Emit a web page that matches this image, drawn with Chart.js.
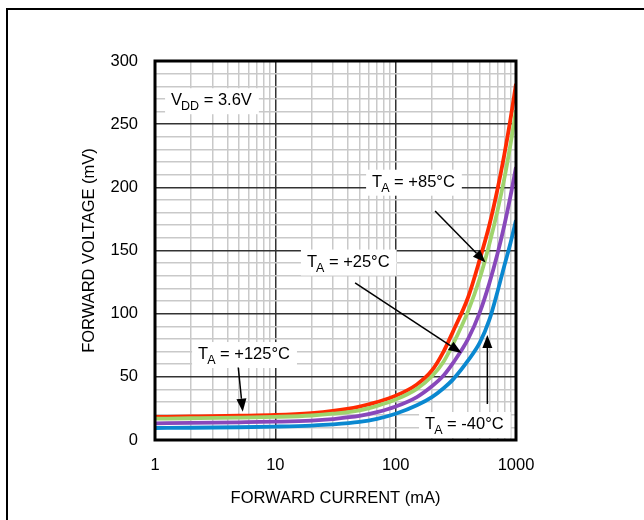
<!DOCTYPE html>
<html>
<head>
<meta charset="utf-8">
<script src="https://cdn.jsdelivr.net/npm/chart.js@4/dist/chart.umd.min.js"></script>
<style>
  html, body { margin: 0; padding: 0; background: #fff; }
  #wrap { width: 644px; height: 520px; position: relative; }
</style>
</head>
<body>
<div id="wrap"><canvas id="c" width="644" height="520"></canvas></div>
<script>
// ---- data ----
const currents = [1, 2, 5, 10, 20, 30, 50, 70, 100, 150, 200, 250, 300, 400, 500, 600, 700, 800, 900, 1000]; // mA
const v125 = [18.2, 18.6, 19.2, 19.8, 21.3, 23, 26.5, 30, 35, 44, 55, 70, 86, 113, 143, 170, 198, 226, 254, 282];
const v85  = [16.9, 17.2, 17.7, 18.3, 19.4, 20.8, 23.5, 27, 32, 40.5, 50.5, 62, 76, 102, 128, 155, 181, 207, 234, 261];
const v25  = [13.2, 13.5, 14, 14.5, 15.4, 16.6, 19, 22, 26.5, 34, 42.5, 51, 61, 80, 101, 124, 147, 170, 193, 216];
const vm40 = [9.5, 9.7, 10.1, 10.6, 11.4, 12.3, 14.3, 16.8, 20.8, 27.5, 34, 41, 48, 63, 77, 95, 117, 138, 156, 174];
const seriesNames = ['TA = -40°C', 'TA = +25°C', 'TA = +85°C', 'TA = +125°C'];
const xGridValues = [1,2,3,4,5,6,7,8,9,10,20,30,40,50,60,70,80,90,100,200,300,400,500,600,700,800,900,1000];
const xLabelValues = [1, 10, 100, 1000];
const yMajorStep = 50;
const yMinorStep = 10;

const toPts = arr => currents.map((c, i) => ({ x: c, y: arr[i] }));

const FONT_FAMILY = "'Liberation Sans', Arial, sans-serif";
const FONT_SIZE = 16.5;

// annotations in data coordinates (current mA, voltage mV)
const annotations = [
  { text: 'V', sub: 'DD', rest: ' = 3.6V', at: [1.36, 265] },
  { text: 'T', sub: 'A', rest: ' = +85°C', at: [63.7, 200.5], arrow: [[212.6, 181.3], [559, 140.5]] },
  { text: 'T', sub: 'A', rest: ' = +25°C', at: [18.3, 137.3], arrow: [[46, 124.3], [353, 68.9]] },
  { text: 'T', sub: 'A', rest: ' = +125°C', at: [2.28, 64.1], arrow: [[4.92, 57.4], [5.36, 22.4]] },
  { text: 'T', sub: 'A', rest: ' = -40°C', at: [175.5, 8.7], arrow: [[578, 28.5], [578, 83.1]] }
];

const overlayPlugin = {
  id: 'overlay',
  beforeDraw(chart) {
    const ctx = chart.ctx;
    ctx.save();
    ctx.strokeStyle = '#000';
    ctx.lineWidth = 2;
    ctx.beginPath();
    ctx.moveTo(7, 520);
    ctx.lineTo(7, 9);
    ctx.lineTo(644, 9);
    ctx.stroke();
    ctx.restore();
  },
  afterDatasetsDraw(chart) {
    const ctx = chart.ctx;
    const xs = chart.scales.x, ys = chart.scales.y;
    const a = chart.chartArea;
    ctx.save();
    // plot frame
    ctx.strokeStyle = '#000';
    ctx.lineWidth = 3;
    ctx.strokeRect(a.left, a.top, a.right - a.left, a.bottom - a.top);

    const mainFont = FONT_SIZE + 'px ' + FONT_FAMILY;
    const subFont = '12.5px ' + FONT_FAMILY;
    annotations.forEach(an => {
      const px = xs.getPixelForValue(an.at[0]);
      const py = ys.getPixelForValue(an.at[1]);
      ctx.font = mainFont;
      const w1 = ctx.measureText(an.text).width;
      const w3 = ctx.measureText(an.rest).width;
      ctx.font = subFont;
      const w2 = ctx.measureText(an.sub).width;
      const total = w1 + w2 + w3;
      ctx.fillStyle = '#fff';
      ctx.fillRect(px - 6, py - 17, total + 12, 26);
      ctx.fillStyle = '#000';
      ctx.textBaseline = 'alphabetic';
      ctx.textAlign = 'left';
      ctx.font = mainFont;
      ctx.fillText(an.text, px, py);
      ctx.font = subFont;
      ctx.fillText(an.sub, px + w1 - 1, py + 5);
      ctx.font = mainFont;
      ctx.fillText(an.rest, px + w1 + w2 - 1, py);
      if (an.arrow) {
        const x0 = xs.getPixelForValue(an.arrow[0][0]);
        const y0 = ys.getPixelForValue(an.arrow[0][1]);
        const x1 = xs.getPixelForValue(an.arrow[1][0]);
        const y1 = ys.getPixelForValue(an.arrow[1][1]);
        const ang = Math.atan2(y1 - y0, x1 - x0);
        const L = 13, W = 5;
        const bx = x1 - L * Math.cos(ang), by = y1 - L * Math.sin(ang);
        ctx.strokeStyle = '#000';
        ctx.lineWidth = 1.5;
        ctx.beginPath();
        ctx.moveTo(x0, y0);
        ctx.lineTo(bx, by);
        ctx.stroke();
        ctx.fillStyle = '#000';
        ctx.beginPath();
        ctx.moveTo(x1, y1);
        ctx.lineTo(bx + W * Math.sin(ang), by - W * Math.cos(ang));
        ctx.lineTo(bx - W * Math.sin(ang), by + W * Math.cos(ang));
        ctx.closePath();
        ctx.fill();
      }
    });
    ctx.restore();
  }
};

const lineDs = (label, arr, color) => ({
  label, data: toPts(arr), borderColor: color, backgroundColor: color,
  borderWidth: 3.8, pointRadius: 0, cubicInterpolationMode: 'monotone', fill: false
});

new Chart(document.getElementById('c'), {
  type: 'line',
  data: {
    datasets: [
      lineDs(seriesNames[0], vm40, '#0a88d0'),
      lineDs(seriesNames[1], v25, '#8848bb'),
      lineDs(seriesNames[2], v85, '#9fd46c'),
      lineDs(seriesNames[3], v125, '#ff2a00')
    ]
  },
  options: {
    responsive: false,
    animation: false,
    devicePixelRatio: 1,
    layout: { padding: { top: 61, right: 128, left: 0, bottom: 0 } },
    plugins: { legend: { display: false }, tooltip: { enabled: false } },
    scales: {
      x: {
        type: 'logarithmic',
        min: 1, max: 1000,
        afterBuildTicks: s => { s.ticks = xGridValues.map(v => ({ value: v })); },
        afterFit: s => { s.height = 80; },
        ticks: {
          autoSkip: false, maxRotation: 0, minRotation: 0,
          color: '#000', padding: 16,
          font: { family: FONT_FAMILY, size: FONT_SIZE },
          callback: v => xLabelValues.includes(v) ? String(v) : ''
        },
        grid: {
          drawTicks: false,
          color: c => xLabelValues.includes(c.tick && c.tick.value) ? '#333' : '#c9c9c9',
          lineWidth: 1.5
        },
        border: { display: false },
        title: {
          display: true, text: 'FORWARD CURRENT (mA)', color: '#000',
          font: { family: FONT_FAMILY, size: FONT_SIZE }, padding: { top: 0, bottom: 12 }
        }
      },
      y: {
        min: 0, max: 300,
        afterFit: s => { s.width = 155; },
        ticks: {
          stepSize: yMinorStep, autoSkip: false, color: '#000', padding: 17,
          font: { family: FONT_FAMILY, size: FONT_SIZE },
          callback: v => (v % yMajorStep === 0) ? String(v) : ''
        },
        grid: {
          drawTicks: false,
          color: c => (c.tick && c.tick.value % yMajorStep === 0) ? '#333' : '#c9c9c9',
          lineWidth: 1.5
        },
        border: { display: false },
        title: {
          display: true, text: 'FORWARD VOLTAGE (mV)', color: '#000',
          font: { family: FONT_FAMILY, size: FONT_SIZE }, padding: { top: 80, bottom: 0 }
        }
      }
    }
  },
  plugins: [overlayPlugin]
});
</script>
</body>
</html>
